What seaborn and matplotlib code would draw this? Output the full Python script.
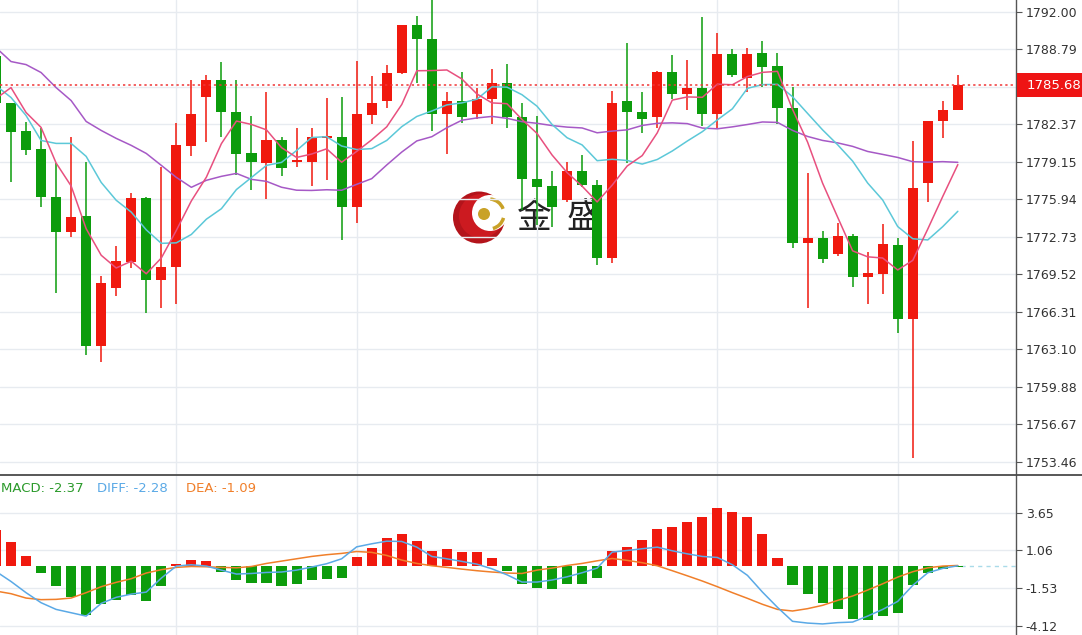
import numpy as np
import pandas as pd
import matplotlib
matplotlib.use("Agg")
import matplotlib.pyplot as plt
import seaborn as sns
from matplotlib.patches import Circle, Rectangle, Arc
from matplotlib.lines import Line2D

sns.set_theme(style="white")
plt.rcParams['font.family'] = ['DejaVu Sans', 'Noto Sans CJK SC']
plt.rcParams['axes.unicode_minus'] = False

# ---------------- data (candle index -1 .. 63) ----------------
opens = [1788.24, 1784.14, 1781.74, 1780.20, 1776.10, 1773.11, 1774.48, 1763.37, 1768.32, 1770.55,
         1776.02, 1769.01, 1770.12, 1780.46, 1784.73, 1786.19, 1783.45, 1779.86, 1779.01, 1780.97,
         1779.09, 1779.09, 1781.15, 1781.23, 1775.25, 1783.11, 1784.31, 1786.79, 1790.89, 1789.69,
         1783.28, 1784.39, 1783.20, 1784.48, 1785.85, 1782.94, 1777.64, 1777.04, 1775.85, 1778.32,
         1777.13, 1770.89, 1784.31, 1783.45, 1782.94, 1786.87, 1784.99, 1785.50, 1783.20, 1788.41,
         1786.36, 1788.50, 1787.38, 1783.71, 1772.17, 1772.60, 1771.23, 1772.77, 1769.26, 1769.52,
         1772.00, 1765.68, 1777.30, 1782.68, 1783.62]
highs = [1788.60, 1784.20, 1782.51, 1782.00, 1779.01, 1781.23, 1779.09, 1769.35, 1771.91, 1776.44,
         1776.10, 1778.67, 1782.43, 1786.19, 1786.62, 1787.73, 1786.19, 1783.03, 1785.08, 1781.23,
         1782.00, 1782.00, 1784.65, 1784.73, 1787.81, 1786.53, 1787.47, 1790.90, 1791.66, 1793.20,
         1785.08, 1786.87, 1785.50, 1787.13, 1787.56, 1784.14, 1783.03, 1778.32, 1779.09, 1779.69,
         1777.56, 1785.25, 1789.35, 1785.08, 1786.95, 1788.32, 1787.90, 1791.57, 1790.20, 1788.84,
         1788.92, 1789.52, 1788.50, 1785.59, 1778.15, 1773.20, 1773.88, 1772.94, 1771.40, 1773.79,
         1772.60, 1780.89, 1782.68, 1784.31, 1786.62]
lows = [1783.60, 1777.38, 1779.69, 1775.25, 1767.90, 1772.68, 1762.60, 1762.00, 1767.64, 1770.03,
        1766.19, 1766.62, 1766.96, 1779.61, 1780.80, 1781.23, 1777.98, 1776.70, 1775.93, 1777.90,
        1778.67, 1777.04, 1777.56, 1772.43, 1773.88, 1782.34, 1783.79, 1786.70, 1785.93, 1781.74,
        1779.78, 1782.43, 1782.77, 1782.34, 1782.00, 1774.99, 1773.71, 1773.54, 1775.68, 1777.00,
        1770.29, 1770.46, 1779.01, 1781.57, 1782.00, 1784.56, 1783.54, 1782.17, 1782.00, 1786.44,
        1785.16, 1785.59, 1782.34, 1771.74, 1766.62, 1770.46, 1771.10, 1768.41, 1766.96, 1767.81,
        1764.48, 1753.79, 1775.68, 1781.15, 1783.60]
closes = [1784.22, 1781.66, 1780.12, 1776.10, 1773.11, 1774.39, 1763.37, 1768.75, 1770.63, 1776.02,
          1769.01, 1770.12, 1780.55, 1783.28, 1786.19, 1783.37, 1779.78, 1779.09, 1780.97, 1778.58,
          1779.17, 1781.23, 1781.32, 1775.25, 1783.20, 1784.14, 1786.79, 1790.89, 1789.69, 1783.28,
          1784.39, 1782.94, 1784.48, 1785.85, 1782.94, 1777.64, 1776.96, 1775.25, 1778.32, 1777.13,
          1770.89, 1784.14, 1783.45, 1782.77, 1786.87, 1784.91, 1785.50, 1783.28, 1788.41, 1786.62,
          1788.41, 1787.30, 1783.71, 1772.17, 1772.60, 1770.80, 1772.77, 1769.26, 1769.61, 1772.09,
          1765.68, 1776.87, 1782.68, 1783.62, 1785.68]

ma5_head = [1784.56, 1785.50, 1783.37, 1782.09]
ma10_head = [1785.67, 1784.65, 1783.11, 1780.97, 1780.72, 1780.72, 1779.61, 1777.38, 1775.85]
ma20_head = [1788.92, 1787.73, 1787.47, 1786.79, 1785.50, 1784.39, 1782.60, 1781.83, 1781.15, 1780.55,
             1779.86, 1778.84, 1777.81, 1776.96, 1777.56, 1777.90, 1778.15, 1777.64, 1777.47]

macd_hist = [2.47, 1.62, 0.69, -0.48, -1.42, -2.15, -3.36, -2.63, -2.33, -2.04,
             -2.43, -1.40, 0.14, 0.41, 0.32, -0.43, -1.01, -1.17, -1.17, -1.40,
             -1.24, -1.01, -0.94, -0.82, 0.59, 1.21, 1.90, 2.20, 1.72, 1.01,
             1.12, 0.98, 0.96, 0.55, -0.39, -1.26, -1.51, -1.58, -1.24, -1.24,
             -0.85, 1.01, 1.30, 1.78, 2.54, 2.65, 3.04, 3.32, 3.98, 3.68,
             3.34, 2.20, 0.53, -1.35, -1.92, -2.56, -2.95, -3.64, -3.71, -3.48,
             -3.25, -1.35, -0.48, -0.23, -0.07]
diff_line = [-0.39, -1.08, -1.85, -2.54, -3.00, -3.23, -3.46, -2.59, -2.17, -1.95,
             -1.81, -0.85, -0.02, 0.07, -0.02, -0.30, -0.57, -0.53, -0.46, -0.43,
             -0.30, -0.09, 0.14, 0.48, 1.30, 1.51, 1.69, 1.67, 1.28, 0.64,
             0.48, 0.30, 0.11, -0.21, -0.62, -1.12, -1.12, -0.98, -0.76, -0.48,
             -0.16, 0.94, 1.05, 1.17, 1.28, 1.03, 0.82, 0.64, 0.57, 0.07,
             -0.66, -1.81, -2.86, -3.82, -3.94, -4.00, -3.91, -3.87, -3.46, -3.00,
             -2.45, -1.35, -0.48, -0.18, 0.00]
dea_line = [-1.74, -1.92, -2.22, -2.33, -2.31, -2.22, -1.85, -1.44, -1.14, -0.89,
            -0.50, -0.27, -0.11, -0.05, -0.07, -0.11, -0.14, -0.05, 0.16, 0.32,
            0.48, 0.64, 0.76, 0.85, 0.98, 0.92, 0.71, 0.39, 0.16, 0.00,
            -0.11, -0.23, -0.34, -0.43, -0.50, -0.53, -0.30, -0.16, 0.02, 0.16,
            0.34, 0.50, 0.37, 0.21, 0.00, -0.34, -0.69, -1.05, -1.44, -1.85,
            -2.24, -2.65, -3.00, -3.11, -2.95, -2.72, -2.38, -2.08, -1.67, -1.24,
            -0.78, -0.41, -0.14, -0.02, 0.02]

price_ticks = [1792.00, 1788.79, 1785.58, 1782.37, 1779.15, 1775.94, 1772.73, 1769.52,
               1766.31, 1763.10, 1759.88, 1756.67, 1753.46]
macd_ticks = [3.65, 1.06, -1.53, -4.12]
last_price = 1785.68
macd_labels = ["MACD: -2.37", "DIFF: -2.28", "DEA: -1.09"]
watermark_chars = ["金", "盛"]

# ---------------- styling ----------------
RED, GREEN = "#f0190e", "#0c9c0c"
GRID = "#e7ebf0"
AX_COL = "#555555"
W, H = 1082, 635

idx = np.arange(-1, len(closes) - 1)
df = pd.DataFrame({"i": idx, "open": opens, "high": highs, "low": lows, "close": closes})
for n, head in [(5, ma5_head), (10, ma10_head), (20, ma20_head)]:
    m = df["close"].rolling(n).mean().to_numpy()
    m[:len(head)] = head
    df[f"ma{n}"] = m
up = df["close"] >= df["open"]
cols = np.where(up, RED, GREEN)

mdf = pd.DataFrame({"i": idx, "hist": macd_hist, "diff": diff_line, "dea": dea_line})

fig = plt.figure(figsize=(W / 100, H / 100), dpi=100)
fig.patch.set_facecolor("white")


def px(x0, y0, x1, y1):
    return [x0 / W, 1 - y1 / H, (x1 - x0) / W, (y1 - y0) / H]


# watermark layer (behind)
wm = fig.add_axes([0, 0, 1, 1], zorder=-1)
wm.set_xlim(0, W)
wm.set_ylim(H, 0)
wm.axis("off")
wm.add_patch(Circle((479, 217.5), 26, color="#b3141b", lw=0))
wm.add_patch(Circle((481, 216), 22, color="#cc1a20", lw=0))
wm.add_patch(Circle((490, 213), 18, color="white", lw=0))
wm.add_patch(Arc((489, 214), 30, 30, theta1=-85, theta2=-20, color="#c9a227", lw=2.5))
wm.add_patch(Arc((489, 214), 30, 30, theta1=15, theta2=75, color="#c9a227", lw=2.5))
wm.add_patch(Circle((484, 214), 6, color="#c9a227", lw=0))
for cx, ch in zip([534, 584], watermark_chars):
    wm.text(cx, 218, ch, fontsize=25, family=["Noto Sans CJK SC"], color="#222222",
            ha="center", va="center")

XL = (-0.732, 66.87)
vgrid = [11, 23, 35, 47, 59]

# ---------------- main candle panel ----------------
ax = fig.add_axes(px(0, 0, 1016, 474))
ax.set_facecolor("none")
ax.set_xlim(*XL)
ax.set_ylim(1752.41, 1793.0)
ax.vlines(df["i"], df["low"], df["high"], colors=cols, lw=1.1, zorder=3)
body_h = np.maximum((df["close"] - df["open"]).abs(), 0.2)
ax.bar(df["i"], body_h, bottom=np.minimum(df["open"], df["close"]), width=0.67,
       color=cols, linewidth=0, zorder=4)
for col, c in [("ma20", "#a659c6"), ("ma10", "#5cc8d8"), ("ma5", "#e8507f")]:
    sns.lineplot(data=df, x="i", y=col, ax=ax, color=c, lw=1.1, estimator=None,
                 sort=False, legend=False, zorder=5)
ax.axhline(last_price, color="#f03535", ls=(0, (1.5, 2)), lw=1.1, zorder=6)

ax.set_yticks(price_ticks)
# the tick next to the last price is covered by the price tag in the original
ax.set_yticklabels(["" if abs(t - last_price) < 0.5 else f"{t:.2f}" for t in price_ticks])
ax.set_xticks(vgrid)
ax.yaxis.tick_right()
ax.grid(True, color=GRID, lw=1)
ax.tick_params(axis="x", length=0, labelbottom=False)
ax.tick_params(axis="y", direction="out", length=4, width=0.8, color=AX_COL, pad=3,
               labelsize=9, labelcolor="#333333", right=True, left=False)
ax.set_xlabel("")
ax.set_ylabel("")
for s in ["top", "left", "bottom"]:
    ax.spines[s].set_visible(False)
ax.spines["right"].set_color(AX_COL)
ax.spines["right"].set_linewidth(1)

# ---------------- MACD panel ----------------
axm = fig.add_axes(px(0, 475, 1016, 635))
axm.set_facecolor("none")
axm.set_xlim(*XL)
axm.set_ylim(-4.76, 6.24)
axm.bar(mdf["i"], mdf["hist"], width=0.67,
        color=np.where(mdf["hist"] >= 0, RED, GREEN), linewidth=0, zorder=3)
sns.lineplot(data=mdf, x="i", y="dea", ax=axm, color="#f07f2a", lw=1.1, estimator=None,
             sort=False, legend=False, zorder=5)
sns.lineplot(data=mdf, x="i", y="diff", ax=axm, color="#5aa9e6", lw=1.1, estimator=None,
             sort=False, legend=False, zorder=5)
axm.hlines(0, idx[-1] + 0.2, XL[1], colors="#a9dbe9", linestyles=(0, (3, 3)), lw=1, zorder=2)
axm.set_yticks(macd_ticks)
axm.set_yticklabels([f"{t:.2f}" for t in macd_ticks])
axm.set_xticks(vgrid)
axm.yaxis.tick_right()
axm.grid(True, color=GRID, lw=1)
axm.tick_params(axis="x", length=0, labelbottom=False)
axm.tick_params(axis="y", direction="out", length=4, width=0.8, color=AX_COL, pad=3,
                labelsize=9, labelcolor="#333333", right=True, left=False)
axm.set_xlabel("")
axm.set_ylabel("")
for s in ["top", "left", "bottom"]:
    axm.spines[s].set_visible(False)
axm.spines["right"].set_color(AX_COL)
axm.spines["right"].set_linewidth(1)

# panel divider
fig.add_artist(Line2D([0, 1], [1 - 474.5 / H] * 2, color="#4a4a4a", lw=1.3,
                      transform=fig.transFigure, zorder=6))

# MACD header texts
for x0, txt, c in zip([1, 97, 186], macd_labels, ["#2b9a2b", "#5aa9e6", "#f07f2a"]):
    fig.text(x0 / W, 1 - 489 / H, txt, color=c, fontsize=9.5, ha="left", va="center")

# last price tag
fig.add_artist(Rectangle((1017 / W, 1 - 97 / H), 65 / W, 24 / H, transform=fig.transFigure,
                         color="#ee1414", lw=0, zorder=7))
fig.text(1027 / W, 1 - 85.5 / H, f"{last_price:.2f}", color="white", fontsize=9.5,
         ha="left", va="center", zorder=8)

fig.savefig("out.png", dpi=100, facecolor="white")
